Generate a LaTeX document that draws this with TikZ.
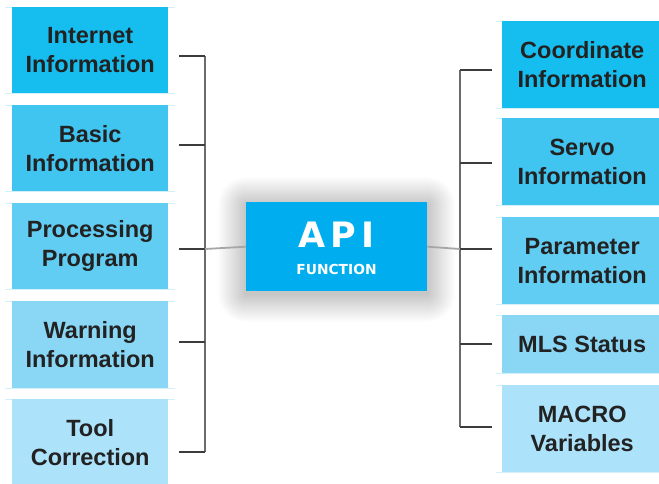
\documentclass[tikz,border=0pt]{standalone}
\usepackage{fontspec}
\setmainfont{Liberation Sans}
\newfontfamily\apifont{DejaVu Sans}
\definecolor{cA}{RGB}{22,190,240}
\definecolor{cB}{RGB}{64,196,240}
\definecolor{cC}{RGB}{98,205,243}
\definecolor{cD}{RGB}{138,215,245}
\definecolor{cE}{RGB}{172,226,250}
\definecolor{capi}{RGB}{0,174,239}
\definecolor{txt}{RGB}{34,34,34}
\definecolor{sep}{RGB}{210,240,250}
\definecolor{wire}{RGB}{70,70,70}
\begin{document}
\begin{tikzpicture}[x=1pt,y=-1pt,
  box/.style={rectangle,inner sep=0pt,anchor=north west,align=center,text=txt,
    font=\bfseries\fontsize{23.5}{29}\selectfont},
  sepline/.style={draw=sep,line width=0.8pt},
  wireline/.style={draw=wire,line width=1.8pt},
  stubline/.style={draw=wire!85!black,line width=1.8pt}]
\useasboundingbox (0,0) rectangle (659,483);
\fill[white] (0,0) rectangle (659,483);
% soft shadow of centre box
\foreach \d in {1,...,28}
  \fill[black,opacity=0.007,rounded corners=\d pt] (246-\d,202-\d+3) rectangle (427+\d,291+\d+3);
% separator lines
\foreach \y in {7,93,105,191,203,289,301,388,399}
  \draw[sepline] (5,\y) -- (175,\y);
\foreach \y in {21,108,118,205,217,304,315,373,385,472}
  \draw[sepline] (496,\y) -- (659,\y);
% left boxes
\node[box,fill=cA,minimum width=156pt,minimum height=86pt] (l1) at (12,7) {Internet\\Information};
\node[box,fill=cB,minimum width=156pt,minimum height=86pt] (l2) at (12,105) {Basic\\Information};
\node[box,fill=cC,minimum width=156pt,minimum height=86pt] (l3) at (12,203) {Processing\\Program};
\node[box,fill=cD,minimum width=156pt,minimum height=87pt] (l4) at (12,301) {Warning\\Information};
\node[box,fill=cE,minimum width=156pt,minimum height=86pt] (l5) at (12,399) {Tool\\Correction};
% right boxes
\node[box,fill=cA,minimum width=160pt,minimum height=87pt] (r1) at (502,21) {Coordinate\\Information};
\node[box,fill=cB,minimum width=160pt,minimum height=87pt] (r2) at (502,118) {Servo\\Information};
\node[box,fill=cC,minimum width=160pt,minimum height=87pt] (r3) at (502,217) {Parameter\\Information};
\node[box,fill=cD,minimum width=160pt,minimum height=58pt] (r4) at (502,315) {MLS Status};
\node[box,fill=cE,minimum width=160pt,minimum height=87pt] (r5) at (502,385) {MACRO\\Variables};
% centre box
\node[rectangle,fill=capi,inner sep=0pt,minimum width=181pt,minimum height=89pt,anchor=north west] (api) at (246,202) {};
\node[text=white,inner sep=0pt,anchor=base,font=\apifont\bfseries\fontsize{35}{35}\selectfont] (apit) at (336.5,247) {A\kern5pt P\kern5pt I};
\node[text=white,inner sep=0pt,anchor=base,font=\apifont\bfseries\fontsize{13.8}{14}\selectfont] (apif) at (336.5,274) {FUNCTION};
% junction coordinates
\coordinate (lt) at (205,56);
\coordinate (lb) at (205,452);
\coordinate (lm) at (205,249);
\coordinate (rt) at (460,70);
\coordinate (rb) at (460,427);
\coordinate (rm) at (460,249);
\coordinate (s1) at (179,56);
\coordinate (s2) at (179,145);
\coordinate (s3) at (179,249);
\coordinate (s4) at (179,342);
\coordinate (s5) at (179,452);
\coordinate (t1) at (492,70);
\coordinate (t2) at (492,163);
\coordinate (t3) at (492,249);
\coordinate (t4) at (492,344);
\coordinate (t5) at (492,427);
% brackets
\draw[wireline,draw=wire!80!white] (lt) -- (lb);
\draw[wireline,draw=wire!80!white] (rt) -- (rb);
\foreach \i in {1,...,5} \draw[stubline] (s\i) -- (s\i -| lt);
\foreach \i in {1,2,4,5} \draw[stubline] (t\i) -- (t\i -| rt);
\draw[stubline,draw=gray!70] (lm) -- (api.west);
\draw[stubline,draw=gray!70] (api.east) -- (rm);
\draw[stubline] (t3) -- (rm);
\end{tikzpicture}
\end{document}
